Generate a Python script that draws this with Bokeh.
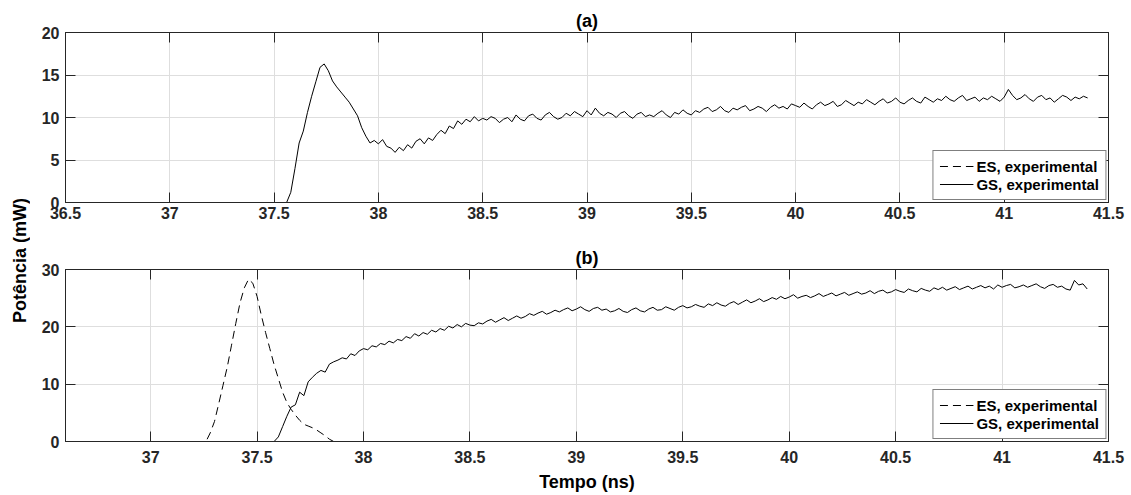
import numpy as np
from bokeh.plotting import figure
from bokeh.layouts import row, column
from bokeh.models import Range1d, FixedTicker, LinearAxis, NumeralTickFormatter, Label
from bokeh.embed import file_html
from bokeh.resources import INLINE

FONT = "Liberation Sans"
INK = "#262626"

# ------------------------------------------------------------------ data
step = 0.02  # sampling step of the recorded traces (ns)

# panel (a)
a_xrange = (36.5, 41.5)
a_yrange = (0, 20)
a_xticks = [36.5, 37, 37.5, 38, 38.5, 39, 39.5, 40, 40.5, 41, 41.5]
a_yticks = [0, 5, 10, 15, 20]
a_t0 = 36.5
a_es_t = [36.5, 41.40]
a_es = [0.0, 0.0]
a_gs_start = 37.56
a_gs = [
    0.0, 1.2, 4.0, 7.0, 8.4, 10.6, 12.5, 14.2, 15.9, 16.3,
    15.5, 14.3, 13.6, 13.0, 12.4, 11.8, 11.0, 10.2, 8.8, 7.8,
    7.0, 7.3, 6.9, 7.4, 6.6, 6.4, 5.9, 6.5, 6.1, 6.8,
    6.4, 7.2, 7.5, 6.9, 7.6, 7.3, 8.0, 8.5, 8.1, 9.0,
    8.7, 9.6, 9.2, 9.8, 9.5, 10.1, 9.6, 9.9,
    9.7, 10.1, 9.9, 9.4, 9.8, 10.0, 9.5, 10.3, 9.8, 9.6,
    10.2, 10.4, 9.9, 9.7, 10.3, 10.6, 10.1, 9.8, 10.0, 10.5,
    10.2, 10.7, 10.4, 10.1, 10.8, 10.3, 11.1, 10.5, 10.2, 10.6,
    10.4, 10.0, 10.5, 10.7, 10.2, 9.9, 10.4, 10.6, 10.1, 10.3,
    10.1, 10.5, 10.8, 10.3, 10.0, 10.6, 10.4, 10.9, 10.5, 10.3,
    10.8, 10.6, 11.0, 11.2, 10.7, 10.9, 11.3, 10.8, 10.6, 11.1,
    10.9, 11.2, 11.4, 10.8, 11.0, 11.3, 11.1, 10.7, 11.2, 11.5,
    11.1, 11.3, 11.0, 11.6, 11.4, 11.2, 11.7, 11.3, 11.0, 11.5,
    11.8, 11.4, 11.6, 11.9, 11.3, 11.5, 12.0, 11.7, 11.4, 11.8,
    11.6, 12.1, 11.8, 11.5, 11.9, 12.2, 11.7, 11.9, 12.3, 11.8,
    11.6, 12.0, 12.3, 11.9, 11.7, 12.4, 12.1, 11.8, 12.2, 12.0,
    12.5, 12.1, 11.9, 12.3, 12.6, 12.0, 12.2, 12.4, 11.9, 12.3,
    12.1, 12.5, 12.2, 11.9, 12.4, 13.3, 12.6, 12.1, 12.3, 12.7,
    12.2, 11.9, 12.4, 12.6, 12.1, 12.3, 11.8, 12.2, 12.6, 12.4,
    12.0, 12.4, 12.2, 12.5, 12.3,
]

# panel (b)
b_xrange = (36.6, 41.5)
b_yrange = (0, 30)
b_xticks = [37, 37.5, 38, 38.5, 39, 39.5, 40, 40.5, 41, 41.5]
b_yticks = [0, 10, 20, 30]
b_t0 = 36.6
b_t_end = 41.40
b_es_start = 37.26
b_es = [
    0.0, 1.5, 3.5, 6.6, 9.8, 13.0, 16.8, 20.6, 24.2, 26.8,
    28.3, 27.6, 25.3, 22.0, 19.0, 16.2, 13.4, 11.0, 8.6, 6.8,
    5.6, 4.6, 3.7, 3.0, 2.7, 2.4, 2.0, 1.5, 1.0, 0.4, 0.0,
]
b_gs_start = 37.58
b_gs = [
    0.0, 0.8, 2.6, 4.4, 6.0, 6.4, 8.6, 8.0, 10.4, 11.2,
    11.9, 12.4, 12.1, 13.5, 13.9, 14.2, 14.6, 14.4, 15.3, 15.0,
    15.8, 16.2, 16.0, 16.7, 16.5, 17.1, 16.9, 17.5, 17.2, 17.8,
    17.6, 18.3, 18.0, 18.8, 18.4, 19.0, 18.7, 19.4, 19.1, 19.7,
    19.4, 20.1, 19.8, 20.4, 20.0, 20.6, 20.3,
    20.2, 20.7, 20.5, 21.0, 21.3, 20.8, 21.2, 21.6, 21.1, 21.5,
    21.9, 21.5, 21.8, 22.3, 22.0, 22.4, 22.7, 22.2, 22.5, 22.9,
    22.6, 23.0, 23.3, 22.8, 23.1, 23.5, 23.0, 22.7, 23.2, 23.4,
    22.9, 23.1, 22.6, 22.8, 23.2, 22.7, 22.5, 23.0, 23.3, 22.8,
    22.6, 23.1, 23.4, 22.9, 23.0, 23.5, 23.2, 22.9, 23.4, 23.7,
    23.3, 23.5, 23.9, 23.6, 23.4, 24.0, 23.7, 24.2, 23.8, 23.6,
    24.1, 24.4, 23.9, 24.3, 24.7, 24.2, 24.5, 24.9, 24.4, 24.7,
    25.1, 24.8, 25.3, 24.9, 25.2, 25.6, 25.0, 25.3, 25.5, 25.1,
    25.4, 25.8, 25.3, 25.6, 25.9, 25.4, 25.7, 26.0, 25.5, 25.8,
    26.1, 25.7, 25.9, 26.3, 25.8, 26.2, 26.4, 25.9, 26.1, 26.5,
    26.2, 26.0, 26.6, 26.3, 26.1, 26.7, 26.4, 26.2, 26.8, 26.5,
    26.9, 26.4, 26.7, 27.0, 26.5, 26.8, 27.1, 26.6, 26.9, 27.2,
    26.8, 27.1, 26.6, 27.3, 26.9, 27.2, 27.4, 26.8, 27.0, 27.3,
    26.9, 27.2, 27.5, 27.0, 26.7, 27.2, 27.4, 26.9, 27.1, 26.6,
    26.4, 28.1, 27.3, 27.5, 26.6,
]

titles = ["(a)", "(b)"]
series_labels = ["ES, experimental", "GS, experimental"]
x_label = "Tempo (ns)"
y_label = "Potência (mW)"


def sampled(start, vals):
    return [round(start + i * step, 2) for i in range(len(vals))]


a_gs_t = [a_t0] + sampled(a_gs_start, a_gs)
a_gs_v = [0.0] + a_gs
b_es_t = [b_t0] + sampled(b_es_start, b_es) + [b_t_end]
b_es_v = [0.0] + b_es + [0.0]
b_gs_t = [b_t0] + sampled(b_gs_start, b_gs)
b_gs_v = [0.0] + b_gs


def style_axis(ax, ticks, show_labels=True, standoff=5):
    ax.ticker = FixedTicker(ticks=ticks)
    ax.axis_line_color = INK
    ax.major_tick_line_color = INK
    ax.major_tick_in = 10
    ax.major_tick_out = 0
    ax.minor_tick_line_color = None
    ax.major_label_text_font = FONT
    ax.major_label_text_font_style = "bold"
    if show_labels:
        ax.major_label_text_color = INK
        ax.major_label_text_font_size = "16px"
        ax.major_label_standoff = standoff
    else:
        ax.major_label_text_color = None
        ax.major_label_text_font_size = "1px"
        ax.major_label_standoff = 0


def panel(title, xr, yr, xt, yt, width, height, ml, mr, mt, mb, xstand):
    p = figure(width=width, height=height, x_range=Range1d(*xr), y_range=Range1d(*yr),
               output_backend="svg", toolbar_location=None,
               min_border_left=ml, min_border_right=mr, min_border_top=mt, min_border_bottom=mb)
    p.title.text = title
    p.title.align = "center"
    p.title.text_font = FONT
    p.title.text_font_style = "bold"
    p.title.text_font_size = "18px"
    p.title.text_color = "#000000"
    p.title.standoff = 3
    p.outline_line_color = INK
    p.outline_line_alpha = 1
    bottom = p.below[0]
    left = p.left[0]
    style_axis(bottom, xt, standoff=xstand)
    style_axis(left, yt, standoff=6)
    bottom.formatter = NumeralTickFormatter(format="0.[0]")
    p.xgrid[0].ticker = FixedTicker(ticks=xt)
    p.ygrid[0].ticker = FixedTicker(ticks=yt)
    p.xgrid.grid_line_color = "#dedede"
    p.ygrid.grid_line_color = "#dedede"
    top = LinearAxis()
    style_axis(top, xt, show_labels=False)
    p.add_layout(top, "above")
    right = LinearAxis()
    style_axis(right, yt, show_labels=False)
    p.add_layout(right, "right")
    p.background_fill_color = "white"
    p.border_fill_color = "white"
    return p, bottom


def add_legend(p):
    lg = p.legend[0]
    lg.location = "bottom_right"
    lg.margin = 2
    lg.padding = 6
    lg.spacing = 0
    lg.glyph_width = 34
    lg.glyph_height = 18
    lg.label_height = 18
    lg.label_standoff = 3
    lg.label_text_font = FONT
    lg.label_text_font_style = "bold"
    lg.label_text_font_size = "15px"
    lg.label_text_color = "#000000"
    lg.border_line_color = "#000000"
    lg.border_line_width = 1
    lg.background_fill_color = "white"
    lg.background_fill_alpha = 1


LW = 30
FW = 1101
fa, fa_bottom = panel(titles[0], a_xrange, a_yrange, a_xticks, a_yticks, FW, 228, 35, 23, 32, 26, 4)
fa.line(a_es_t, a_es, line_color="black", line_width=1, line_dash="8 5", legend_label=series_labels[0])
fa.line(a_gs_t, a_gs_v, line_color="black", line_width=1, legend_label=series_labels[1])
add_legend(fa)

fb, fb_bottom = panel(titles[1], b_xrange, b_yrange, b_xticks, b_yticks, FW, 267, 35, 23, 41, 54, 9)
fb.line(b_es_t, b_es_v, line_color="black", line_width=1, line_dash="8 5", legend_label=series_labels[0])
fb.line(b_gs_t, b_gs_v, line_color="black", line_width=1, legend_label=series_labels[1])
add_legend(fb)
fb_bottom.axis_label = x_label
fb_bottom.axis_label_text_font = FONT
fb_bottom.axis_label_text_font_style = "bold"
fb_bottom.axis_label_text_font_size = "18px"
fb_bottom.axis_label_text_color = "#000000"
fb_bottom.axis_label_standoff = 6

lab = figure(width=LW, height=495, x_range=Range1d(0, LW), y_range=Range1d(0, 495),
             output_backend="svg", toolbar_location=None, x_axis_type=None, y_axis_type=None,
             min_border=0, min_border_left=0, min_border_right=0, min_border_top=0, min_border_bottom=0)
lab.grid.visible = False
lab.outline_line_color = None
lab.add_layout(Label(x=19, y=235, text=y_label, angle=90, angle_units="deg",
                     text_align="center", text_baseline="middle", text_font=FONT,
                     text_font_style="bold", text_font_size="18px", text_color="#000000"))

layout = row(lab, column(fa, fb))
open("out.html", "w").write(file_html(layout, INLINE))
